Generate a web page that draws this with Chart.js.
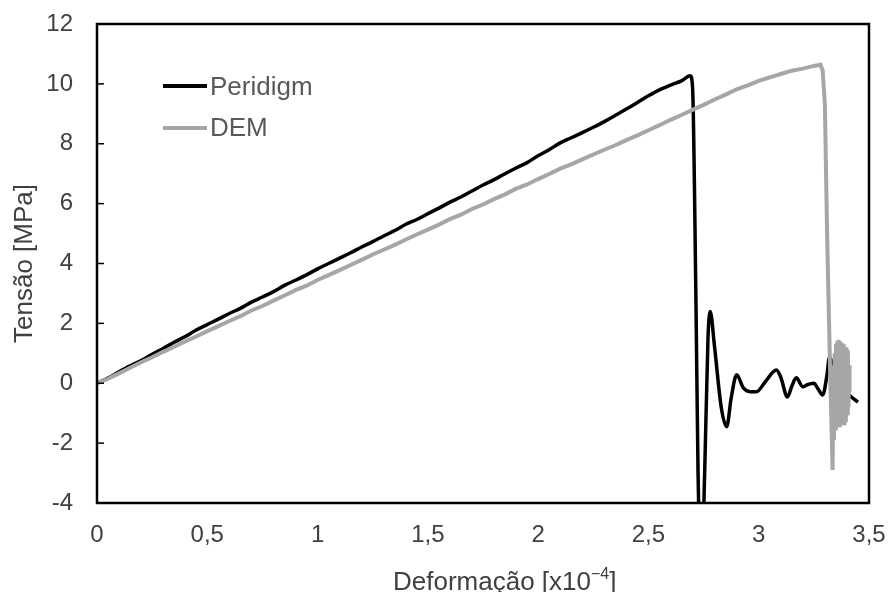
<!DOCTYPE html>
<html>
<head>
<meta charset="utf-8">
<script src="https://cdn.jsdelivr.net/npm/chart.js@4.4.1/dist/chart.umd.min.js"></script>
<style>
  html, body { margin: 0; padding: 0; background: #fff; }
  #wrap { width: 889px; height: 592px; }
</style>
</head>
<body>
<div id="wrap"><canvas id="chart" width="889" height="592"></canvas></div>
<script>
// Peridigm curve (strain x10^-4, stress MPa)
const peridigmX = [0,0.05,0.1,0.15,0.2,0.25,0.3,0.35,0.4,0.45,0.5,0.55,0.6,0.65,0.7,0.75,0.8,0.85,0.9,0.95,
  1.0,1.05,1.1,1.15,1.2,1.25,1.3,1.35,1.4,1.45,1.5,1.55,1.6,1.65,1.7,1.75,1.8,1.85,1.9,1.95,
  2.0,2.05,2.1,2.15,2.2,2.25,2.3,2.35,2.4,2.45,2.5,2.55,2.6,2.65,2.69,
  2.70,2.715,2.725,2.74,2.755,2.77,2.78,2.80,2.83,2.855,2.875,2.90,2.93,2.96,2.99,3.03,3.08,3.10,3.13,3.15,3.17,3.20,3.22,3.25,3.27,3.29,3.31,3.32,3.36,3.41,3.45];
const peridigmY = [0,0.17,0.38,0.58,0.76,0.97,1.16,1.37,1.56,1.78,1.96,2.14,2.33,2.50,2.71,2.88,3.06,3.27,3.44,3.62,
  3.82,4.00,4.18,4.36,4.55,4.73,4.92,5.10,5.31,5.47,5.66,5.85,6.05,6.22,6.42,6.62,6.80,7.00,7.19,7.37,
  7.60,7.80,8.03,8.20,8.37,8.55,8.74,8.95,9.16,9.38,9.60,9.80,9.96,10.10,10.27,
  9.9,3.0,-3.0,-6.5,-3.0,1.5,2.4,1.2,-0.8,-1.45,-0.5,0.28,-0.15,-0.28,-0.28,0.05,0.44,0.2,-0.46,-0.1,0.18,-0.12,-0.05,0.0,-0.2,-0.39,0.3,0.85,0.0,-0.39,-0.63];

// DEM curve
const demX = [0,0.05,0.1,0.15,0.2,0.25,0.3,0.35,0.4,0.45,0.5,0.55,0.6,0.65,0.7,0.75,0.8,0.85,0.9,0.95,
  1.0,1.05,1.1,1.15,1.2,1.25,1.3,1.35,1.4,1.45,1.5,1.55,1.6,1.65,1.7,1.75,1.8,1.85,1.9,1.95,
  2.0,2.05,2.1,2.15,2.2,2.25,2.3,2.35,2.4,2.45,2.5,2.55,2.6,2.65,2.7,2.75,2.8,2.85,2.9,2.95,
  3.0,3.05,3.1,3.15,3.2,3.25,3.28,3.29,3.30,3.31,3.325,3.335,
  3.338,3.341,3.344,3.347,3.350,3.353,3.356,3.359,3.362,3.365,3.368,3.371,3.374,3.377,3.380,3.383,3.386,3.389,3.392,3.395,3.398,3.401,3.404,3.407,3.410,3.412];
const demY = [0,0.15,0.33,0.52,0.70,0.87,1.05,1.22,1.40,1.56,1.74,1.91,2.08,2.24,2.43,2.58,2.76,2.93,3.11,3.26,
  3.45,3.61,3.78,3.95,4.12,4.30,4.46,4.62,4.80,4.97,5.13,5.30,5.48,5.63,5.82,5.97,6.15,6.31,6.50,6.64,
  6.82,6.99,7.17,7.31,7.48,7.64,7.80,7.95,8.12,8.28,8.45,8.62,8.80,8.96,9.13,9.30,9.48,9.64,9.82,9.95,
  10.10,10.22,10.33,10.44,10.51,10.60,10.64,10.45,9.3,5.0,0.0,-2.9,
  0.6,-1.9,1.0,-1.5,1.3,-1.4,1.4,-1.4,1.45,-1.4,1.4,-1.4,1.35,-1.4,1.3,-1.3,1.3,-1.4,1.2,-1.3,1.2,-1.0,1.1,-0.8,0.6,-0.3];

const yTicks = [-4,-2,0,2,4,6,8,10,12];
const seriesNames = ['Peridigm', 'DEM'];

const textColor = '#404040';
const fontFamily = '"Liberation Sans", Arial, sans-serif';

function toPoints(xs, ys) {
    return xs.map((x, i) => ({ x: x, y: ys[i] }));
}

function noScalePadding(s) {
    s.paddingTop = 0;
    s.paddingBottom = 0;
    s.paddingLeft = 0;
    s.paddingRight = 0;
}

// frame, inward y ticks, legend inside the plot and x title with superscript
const framePlugin = {
    id: 'frame',
    afterDraw(chart) {
        const ctx = chart.ctx;
        const a = chart.chartArea;
        const yScale = chart.scales.y;
        ctx.save();
        ctx.strokeStyle = '#000';
        ctx.lineWidth = 2.5;
        ctx.strokeRect(a.left, a.top, a.right - a.left, a.bottom - a.top);
        ctx.lineWidth = 1.5;
        yTicks.forEach(v => {
            const py = yScale.getPixelForValue(v);
            ctx.beginPath();
            ctx.moveTo(a.left, py);
            ctx.lineTo(a.left + 7, py);
            ctx.stroke();
        });

        // legend
        const legendColors = ['#000000', '#a6a6a6'];
        const legendWidths = [4, 4];
        const legendLineY = [86, 128];
        const legendBaseY = [95, 136];
        ctx.font = '26px ' + fontFamily;
        ctx.textBaseline = 'alphabetic';
        ctx.fillStyle = '#595959';
        seriesNames.forEach((name, i) => {
            ctx.beginPath();
            ctx.strokeStyle = legendColors[i];
            ctx.lineWidth = legendWidths[i];
            ctx.moveTo(163, legendLineY[i]);
            ctx.lineTo(207, legendLineY[i]);
            ctx.stroke();
            ctx.fillText(name, 210, legendBaseY[i]);
        });

        // x axis title
        ctx.fillStyle = textColor;
        let tx = 393;
        const base = 590;
        ctx.font = '26px ' + fontFamily;
        const part1 = 'Deformação [x10';
        ctx.fillText(part1, tx, base);
        tx += ctx.measureText(part1).width;
        ctx.font = '16px ' + fontFamily;
        ctx.fillText('−4', tx, base - 11);
        tx += ctx.measureText('−4').width;
        ctx.font = '26px ' + fontFamily;
        ctx.fillText(']', tx, base);
        ctx.restore();
    }
};

const ctx = document.getElementById('chart').getContext('2d');
new Chart(ctx, {
    type: 'line',
    data: {
        datasets: [
            {
                label: seriesNames[1],
                data: toPoints(demX, demY),
                borderColor: '#a6a6a6',
                borderWidth: 4,
                pointRadius: 0,
                tension: 0,
                order: 0
            },
            {
                label: seriesNames[0],
                data: toPoints(peridigmX, peridigmY),
                borderColor: '#000000',
                borderWidth: 3.5,
                pointRadius: 0,
                cubicInterpolationMode: 'monotone',
                order: 1
            }
        ]
    },
    options: {
        responsive: false,
        animation: false,
        layout: { padding: { top: 24, right: 20, left: 0, bottom: 0 } },
        plugins: {
            legend: { display: false },
            tooltip: { enabled: false }
        },
        scales: {
            x: {
                type: 'linear',
                min: 0,
                max: 3.5,
                afterFit: s => { s.height = 89; noScalePadding(s); },
                grid: { display: false, drawTicks: false },
                border: { display: false },
                ticks: {
                    stepSize: 0.5,
                    padding: 18,
                    color: textColor,
                    font: { size: 24, family: fontFamily },
                    callback: v => String(v).replace('.', ',')
                },
                title: { display: false }
            },
            y: {
                min: -4,
                max: 12,
                afterFit: s => { s.width = 97; noScalePadding(s); },
                grid: { display: false, drawTicks: false },
                border: { display: false },
                ticks: {
                    stepSize: 2,
                    padding: 24,
                    color: textColor,
                    font: { size: 24, family: fontFamily }
                },
                title: {
                    display: true,
                    text: 'Tensão [MPa]',
                    color: textColor,
                    font: { size: 26, family: fontFamily },
                    padding: { top: 9, bottom: 0 }
                }
            }
        }
    },
    plugins: [framePlugin]
});
</script>
</body>
</html>
